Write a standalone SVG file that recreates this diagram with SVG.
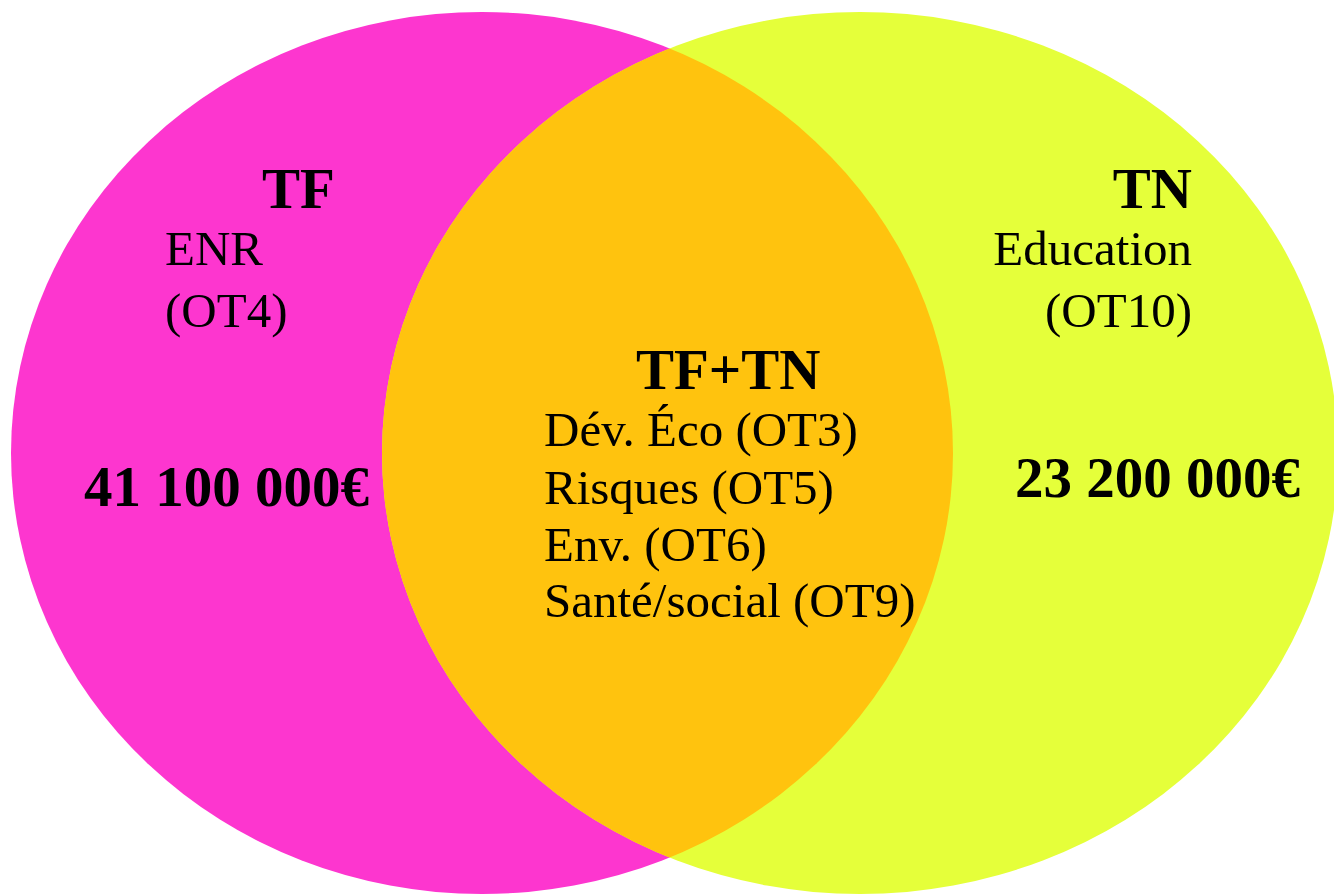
<svg xmlns="http://www.w3.org/2000/svg" width="1334" height="896" viewBox="0 0 1334 896">
  <style>
    .t { font-family: "Liberation Serif", "Times New Roman", serif; fill: #000; }
    .b { font-weight: bold; font-size: 57px; }
    .r { font-size: 49px; }
  </style>
  <defs>
    <clipPath id="clipRight">
      <ellipse cx="860" cy="453" rx="478" ry="441"/>
    </clipPath>
  </defs>
  <rect width="1334" height="896" fill="#ffffff"/>
  <g id="set-tf">
    <ellipse cx="482" cy="453" rx="471" ry="441" fill="#FD36CF"/>
  </g>
  <g id="set-tn">
    <ellipse cx="860" cy="453" rx="478" ry="441" fill="#E5FF3A"/>
  </g>
  <g id="set-overlap">
    <ellipse cx="482" cy="453" rx="471" ry="441" fill="#FFC30E" clip-path="url(#clipRight)"/>
  </g>
  <g id="connectors"/>
  <g id="label-tf">
    <text class="t b" x="262" y="208">TF</text>
    <text class="t r" x="165" y="265">ENR</text>
    <text class="t r" x="165" y="327">(OT4)</text>
    <text class="t b" x="84" y="506">41 100 000€</text>
  </g>
  <g id="label-tn">
    <text class="t b" x="1192" y="208" text-anchor="end">TN</text>
    <text class="t r" x="1192" y="265" text-anchor="end">Education</text>
    <text class="t r" x="1192" y="327" text-anchor="end">(OT10)</text>
    <text class="t b" x="1015" y="497">23 200 000€</text>
  </g>
  <g id="label-overlap">
    <text class="t b" x="636" y="389">TF+TN</text>
    <text class="t r" x="544" y="446">Dév. Éco (OT3)</text>
    <text class="t r" x="544" y="504">Risques (OT5)</text>
    <text class="t r" x="544" y="561">Env. (OT6)</text>
    <text class="t r" x="544" y="617">Santé/social (OT9)</text>
  </g>
</svg>
